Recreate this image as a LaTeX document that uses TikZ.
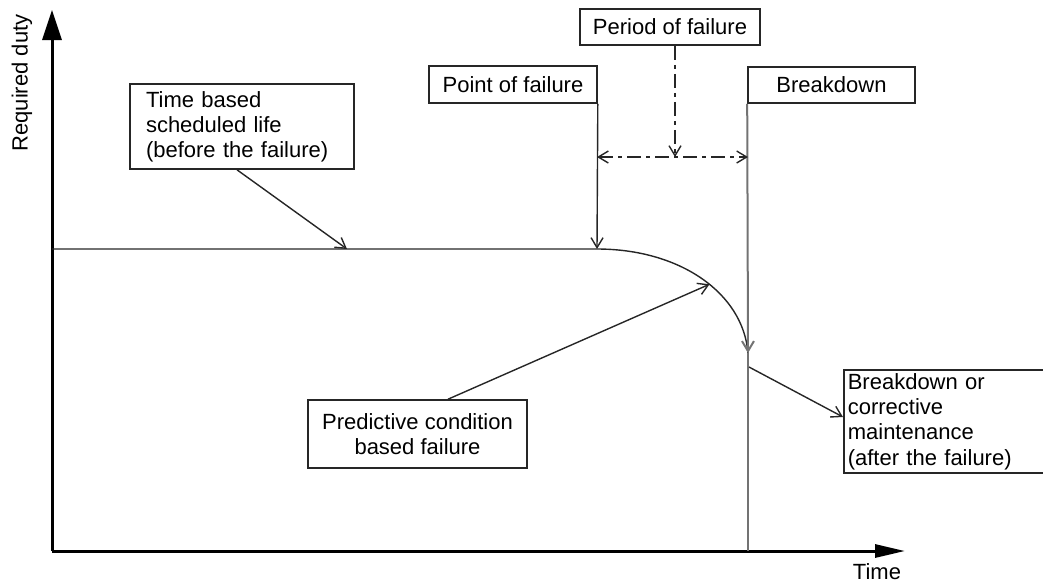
\documentclass[tikz,border=0pt]{standalone}
\usepackage{fontspec}
\setmainfont{Liberation Sans}
\usetikzlibrary{arrows.meta,calc}
\begin{document}
\begin{tikzpicture}[x=0.5pt,y=-0.5pt,
  font=\fontsize{11}{12.6}\selectfont,
  axis/.style={line width=1.5pt, draw=black},
  lbl/.style={draw=black!85, line width=0.8pt, inner sep=0pt, fill=white},
  thin line/.style={line width=0.7pt, draw=black!85},
  ptr/.style={thin line, -{Straight Barb[length=5pt,width=6pt]}},
  dashdot/.style={dash pattern=on 7pt off 2.5pt on 2pt off 2.5pt},
  gline/.style={line width=1pt, draw=black!55}
]
\useasboundingbox (0,0) rectangle (1043,586);

% axes
\coordinate (O) at (52,551);
\coordinate (ytip) at (52,10);
\coordinate (xtip) at (905,551);
\draw[axis, -{Triangle[length=15pt,width=9.5pt]}] (O) -- (ytip);
\draw[axis, -{Triangle[length=15pt,width=6.5pt]}] (O) -- (xtip);
\node[rotate=90] (ylab) at (22,83) {Required duty};
\node (xlab) at (877,572) {Time};

% duty curve
\coordinate (pf) at (597,249);
\coordinate (bd) at (748,353);
\coordinate (tbend) at (347,249);
\draw[thin line] (52,249) -- (pf)
  .. controls (680,249) and (743,293) .. coordinate[pos=0.55] (pc) (bd);

% label boxes
\node[lbl, minimum width=84pt, minimum height=18.5pt] (pof) at (513,84.5) {Point of failure};
\node[lbl, minimum width=90pt, minimum height=18pt] (per) at (670,27) {Period of failure};
\node[lbl, minimum width=83.5pt, minimum height=18pt] (bdb) at (831.5,85) {Breakdown};
\node[lbl, text width=96pt, inner xsep=8pt, minimum height=42.5pt, align=left] (tb) at (242,126.5)
  {Time based\\scheduled life\\(before the failure)};
\node[lbl, minimum width=109.5pt, minimum height=34pt, align=center] (pcb) at (417.5,434)
  {Predictive condition\\based failure};
\node[lbl, text width=103.5pt, inner xsep=2pt, minimum height=51.5pt, align=left, anchor=west] (bc) at (843,421.5)
  {Breakdown or\\corrective\\maintenance\\(after the failure)};

% breakdown line
\draw[gline, -{Straight Barb[length=5pt,width=6pt]}] (bdb.south west) -- (bd);
\draw[gline] (bd) -- (bd |- O);

% pointers
\draw[ptr] (pof.south east) -- (pf);
\draw[ptr] ([xshift=-2.5pt]tb.south) -- (tbend);
\draw[ptr] ([xshift=15.25pt]pcb.north) -- (pc);
\coordinate (bs) at (749,367);
\draw[ptr] (bs) -- ([yshift=2.25pt]bc.west);

% period of failure
\coordinate (pm) at (675,157);
\draw[ptr, dashdot] (pm |- per.south) -- (pm);
\draw[thin line, dashdot, {Straight Barb[length=5pt,width=6pt]}-{Straight Barb[length=5pt,width=6pt]}] (pf |- pm) -- (bd |- pm);
\end{tikzpicture}
\end{document}
